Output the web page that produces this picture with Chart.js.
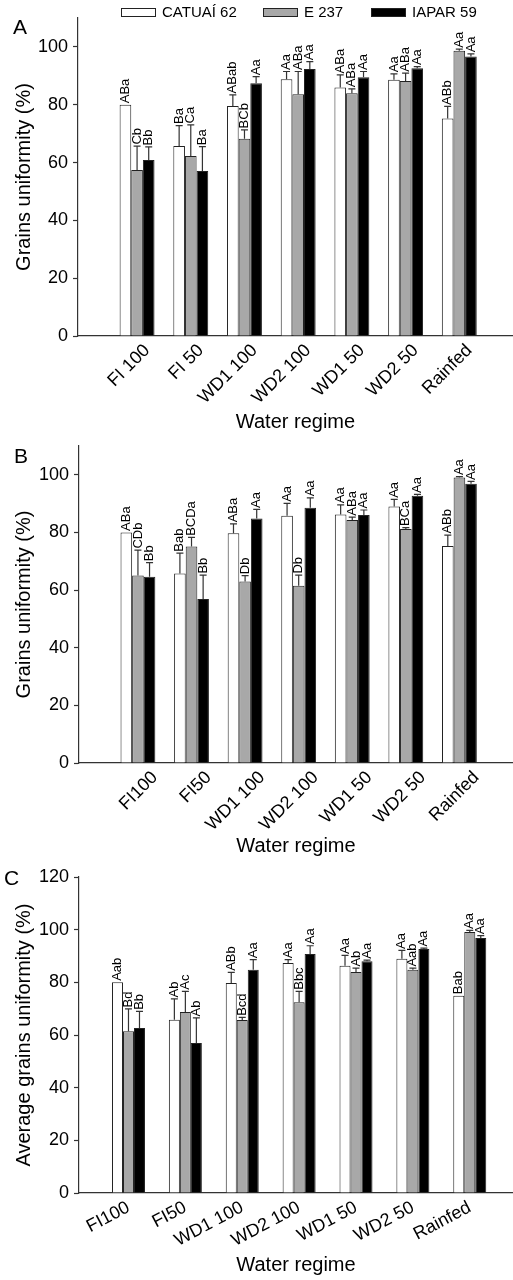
<!DOCTYPE html>
<html>
<head>
<meta charset="utf-8">
<script src="https://cdn.jsdelivr.net/npm/chart.js@4"></script>
<style>
  body { margin: 0; background: #fff; width: 513px; height: 1280px; position: relative; overflow: hidden; }
  canvas { position: absolute; left: 0; }
</style>
</head>
<body>
<canvas id="chartA" width="513" height="440" style="top:0px"></canvas>
<canvas id="chartB" width="513" height="436" style="top:428px"></canvas>
<canvas id="chartC" width="513" height="433" style="top:850px"></canvas>
<script>
// === Data ===
const cultivars = ['CATUAÍ 62', 'E 237', 'IAPAR 59'];
const regimesA = ['FI 100', 'FI 50', 'WD1 100', 'WD2 100', 'WD1 50', 'WD2 50', 'Rainfed'];
const regimesBC = ['FI100', 'FI50', 'WD1 100', 'WD2 100', 'WD1 50', 'WD2 50', 'Rainfed'];
const ticksAB = [0, 20, 40, 60, 80, 100];
const ticksC = [0, 20, 40, 60, 80, 100, 120];

// panel A
const catuaiA = [80, 65.7, 79.6, 88.8, 86.0, 88.6, 75.2];
const catuaiErrA = [0, 7.1, 3.8, 2.7, 4.3, 2.1, 4.2];
const catuaiLetA = ['ABa', 'Ba', 'ABab', 'Aa', 'ABa', 'Aa', 'ABb'];
const e237A = [57.4, 62.3, 68.2, 83.6, 84.0, 88.2, 98.7];
const e237ErrA = [8.3, 10.7, 3.1, 7.9, 1.5, 2.7, 0.5];
const e237LetA = ['Cb', 'Ca', 'BCb', 'ABa', 'ABa', 'ABa', 'Aa'];
const iaparA = [60.9, 57.1, 87.4, 92.4, 89.5, 92.6, 96.7];
const iaparErrA = [4.5, 8.4, 2.3, 2.5, 2.0, 0.6, 0.9];
const iaparLetA = ['Bb', 'Ba', 'Aa', 'Aa', 'Aa', 'Aa', 'Aa'];

// panel B
const catuaiB = [80, 65.8, 79.7, 85.8, 86.2, 89.0, 75.3];
const catuaiErrB = [0, 7.0, 3.3, 4.3, 3.4, 2.5, 3.8];
const catuaiLetB = ['ABa', 'Bab', 'ABa', 'Aa', 'Aa', 'Aa', 'ABb'];
const e237B = [65.1, 75.1, 63.0, 61.5, 84.3, 81.2, 99.1];
const e237ErrB = [8.8, 3.2, 2.0, 3.7, 1.0, 0.5, 0.3];
const e237LetB = ['CDb', 'BCDa', 'Db', 'Db', 'ABa', 'BCa', 'Aa'];
const iaparB = [64.6, 56.9, 84.8, 88.6, 86.1, 92.7, 96.9];
const iaparErrB = [4.9, 8.3, 3.2, 3.4, 1.7, 0.5, 0.8];
const iaparLetB = ['Bb', 'Bb', 'Aa', 'Aa', 'Aa', 'Aa', 'Aa'];

// panel C
const catuaiC = [80, 65.8, 79.7, 87.3, 86.3, 89.0, 74.9];
const catuaiErrC = [0, 7.9, 4.1, 1.3, 3.9, 3.1, 0];
const catuaiLetC = ['Aab', 'Ab', 'ABb', 'Aa', 'Aa', 'Aa', 'Bab'];
const e237C = [61.4, 68.7, 65.7, 72.4, 83.9, 84.8, 99.1];
const e237ErrC = [8.5, 7.9, 1.0, 4.2, 1.5, 0.6, 0.6];
const e237LetC = ['Bd', 'Ac', 'Bcd', 'Bbc', 'Ab', 'Aab', 'Aa'];
const iaparC = [62.7, 57.0, 84.8, 90.8, 88.0, 92.7, 96.8];
const iaparErrC = [6.3, 9.5, 3.8, 3.1, 0.4, 0.3, 0.9];
const iaparLetC = ['Bb', 'Ab', 'Aa', 'Aa', 'Aa', 'Aa', 'Aa'];

// === Styles ===
const FONT = "'Liberation Sans', Arial, sans-serif";
const fills = ['#ffffff', '#a8a8a8', '#000000'];
const edge = '#222222';
const axisColor = '#333333';
Chart.defaults.font.family = FONT;
Chart.defaults.color = '#000';

// error bars (upper only) and significance letters above them
const errorLetters = {
  id: 'errorLetters',
  afterDatasetsDraw(chart) {
    const ctx = chart.ctx;
    const yScale = chart.scales.y;
    ctx.save();
    chart.data.datasets.forEach((ds, i) => {
      chart.getDatasetMeta(i).data.forEach((bar, j) => {
        const v = ds.data[j].y;
        const e = ds.errors[j];
        const top = yScale.getPixelForValue(v + e);
        if (e > 0) {
          ctx.strokeStyle = axisColor;
          ctx.lineWidth = 1.2;
          ctx.beginPath();
          ctx.moveTo(bar.x, bar.y);
          ctx.lineTo(bar.x, top);
          ctx.moveTo(bar.x - 3.5, top);
          ctx.lineTo(bar.x + 3.5, top);
          ctx.stroke();
        }
        ctx.save();
        ctx.translate(bar.x, top - 1.5);
        ctx.rotate(-Math.PI / 2);
        ctx.font = '13px ' + FONT;
        ctx.fillStyle = '#000';
        ctx.textAlign = 'left';
        ctx.textBaseline = 'middle';
        ctx.fillText(ds.letters[j], 0, 0);
        ctx.restore();
      });
    });
    ctx.restore();
  }
};

// panel letter and (panel A) legend row
const panelDeco = {
  id: 'panelDeco',
  afterDraw(chart, args, opts) {
    const ctx = chart.ctx;
    ctx.save();
    ctx.fillStyle = '#000';
    ctx.font = '21px ' + FONT;
    ctx.textBaseline = 'alphabetic';
    ctx.textAlign = 'left';
    ctx.fillText(opts.letter, opts.letterX, opts.letterY);
    if (opts.legend) {
      ctx.font = '15px ' + FONT;
      ctx.textBaseline = 'middle';
      const starts = [121, 263, 371];
      chart.data.datasets.forEach((ds, i) => {
        ctx.fillStyle = ds.backgroundColor;
        ctx.fillRect(starts[i], 8, 35, 9);
        ctx.strokeStyle = edge;
        ctx.lineWidth = 1;
        ctx.strokeRect(starts[i] + 0.5, 8.5, 34, 8);
        ctx.fillStyle = '#000';
        ctx.fillText(ds.label, starts[i] + 41, 13);
      });
    }
    ctx.restore();
  }
};

function makePanel(id, cfg) {
  const series = [cfg.catuai, cfg.e237, cfg.iapar];
  const datasets = cultivars.map((name, k) => ({
    label: name,
    data: series[k][0].map((v, i) => ({ x: i + 1, y: v })),
    errors: series[k][1],
    letters: series[k][2],
    backgroundColor: fills[k],
    borderColor: edge,
    borderWidth: 1,
    borderSkipped: 'bottom',
    categoryPercentage: cfg.catPct,
    barPercentage: 1
  }));

  return new Chart(document.getElementById(id), {
    type: 'bar',
    data: { datasets },
    plugins: [errorLetters, panelDeco],
    options: {
      responsive: false,
      animation: false,
      layout: { padding: { left: 8, top: cfg.padTop, right: 0, bottom: 0 } },
      plugins: {
        legend: { display: false },
        tooltip: { enabled: false },
        panelDeco: { letter: cfg.letter, letterX: cfg.letterX, letterY: cfg.letterY, legend: cfg.legend }
      },
      scales: {
        x: {
          type: 'linear',
          min: cfg.xMin,
          max: cfg.xMax,
          offset: false,
          afterBuildTicks: s => { s.ticks = cfg.regimes.map((_, i) => ({ value: i + 1 })); },
          afterFit: s => { s.height = cfg.xHeight; },
          ticks: {
            autoSkip: false,
            minRotation: cfg.rot,
            maxRotation: cfg.rot,
            padding: 4,
            labelOffset: cfg.labelShift,
            font: { size: 18 },
            color: '#000',
            callback: v => cfg.regimes[v - 1]
          },
          grid: { display: true, offset: false, drawOnChartArea: false, drawTicks: false },
          border: { color: axisColor, width: 1.2 },
          title: { display: true, text: 'Water regime', font: { size: 20 }, color: '#000', padding: { top: 4, bottom: 6 } }
        },
        y: {
          min: 0,
          max: cfg.yMax,
          afterBuildTicks: s => { s.ticks = cfg.yTicks.map(v => ({ value: v })); },
          afterFit: s => { s.width = cfg.yWidth; },
          ticks: { font: { size: 18 }, color: '#000', padding: 5 },
          grid: { drawOnChartArea: false, drawTicks: true, tickLength: 5, tickColor: axisColor, tickWidth: 1.2 },
          border: { color: axisColor, width: 1.2 },
          title: { display: true, text: cfg.yTitle, font: { size: 20 }, color: '#000', padding: { top: 4, bottom: 4 } }
        }
      }
    }
  });
}

makePanel('chartA', {
  catuai: [catuaiA, catuaiErrA, catuaiLetA],
  e237: [e237A, e237ErrA, e237LetA],
  iapar: [iaparA, iaparErrA, iaparLetA],
  regimes: regimesA, yTicks: ticksAB, yMax: 110,
  yTitle: 'Grains uniformity (%)',
  xMin: -0.1, xMax: 8, rot: 45, catPct: 0.65, labelShift: 10,
  padTop: 18, yWidth: 70, xHeight: 104,
  letter: 'A', letterX: 13, letterY: 34, legend: true
});

makePanel('chartB', {
  catuai: [catuaiB, catuaiErrB, catuaiLetB],
  e237: [e237B, e237ErrB, e237LetB],
  iapar: [iaparB, iaparErrB, iaparLetB],
  regimes: regimesBC, yTicks: ticksAB, yMax: 110,
  yTitle: 'Grains uniformity (%)',
  xMin: -0.1, xMax: 8, rot: 45, catPct: 0.65, labelShift: 17,
  padTop: 18, yWidth: 71, xHeight: 101,
  letter: 'B', letterX: 14, letterY: 35, legend: false
});

makePanel('chartC', {
  catuai: [catuaiC, catuaiErrC, catuaiLetC],
  e237: [e237C, e237ErrC, e237LetC],
  iapar: [iaparC, iaparErrC, iaparLetC],
  regimes: regimesBC, yTicks: ticksC, yMax: 120,
  yTitle: 'Average grains uniformity (%)',
  xMin: 0.13, xMax: 7.76, rot: 28, catPct: 0.58, labelShift: 0,
  padTop: 27, yWidth: 71, xHeight: 90,
  letter: 'C', letterX: 4, letterY: 35, legend: false
});
</script>
</body>
</html>
